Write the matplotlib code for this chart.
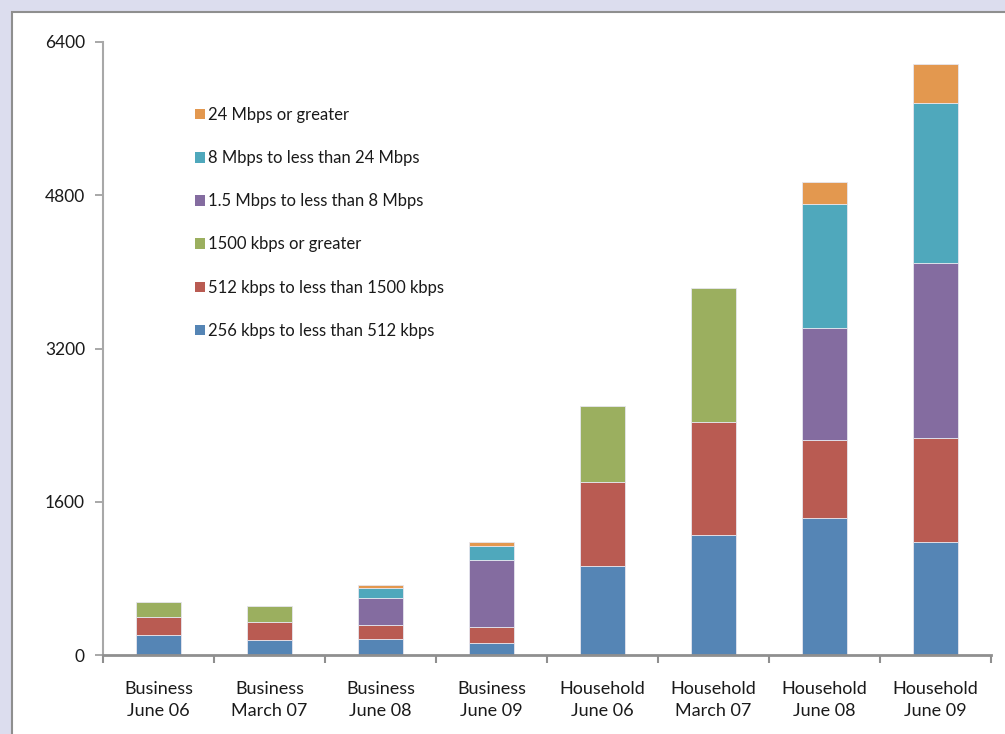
import matplotlib
matplotlib.use('Agg')

import matplotlib.pyplot as plt
import numpy as np
from matplotlib.patches import Rectangle, Patch

plt.rcParams['font.family'] = ['Lato', 'DejaVu Sans']

categories = ['Business\nJune 06', 'Business\nMarch 07', 'Business\nJune 08', 'Business\nJune 09',
              'Household\nJune 06', 'Household\nMarch 07', 'Household\nJune 08', 'Household\nJune 09']

# valores (conexões, empilhadas de baixo para cima)
kbps_256_512 = [206, 160, 167, 122, 932, 1250, 1430, 1176]
kbps_512_1500 = [194, 188, 149, 167, 877, 1182, 811, 1086]
kbps_1500_plus = [153, 167, 0, 0, 787, 1400, 0, 0]
mbps_1_5_8 = [0, 0, 279, 700, 0, 0, 1176, 1834]
mbps_8_24 = [0, 0, 101, 152, 0, 0, 1288, 1664]
mbps_24_plus = [0, 0, 35, 39, 0, 0, 233, 407]

series = [
    ('256 kbps to less than 512 kbps', kbps_256_512, '#5585B5'),
    ('512 kbps to less than 1500 kbps', kbps_512_1500, '#B95B52'),
    ('1500 kbps or greater', kbps_1500_plus, '#9BAF5F'),
    ('1.5 Mbps to less than 8 Mbps', mbps_1_5_8, '#846CA0'),
    ('8 Mbps to less than 24 Mbps', mbps_8_24, '#4FA8BC'),
    ('24 Mbps or greater', mbps_24_plus, '#E3984F'),
]

fig = plt.figure(figsize=(10.05, 7.34), dpi=100)
fig.patch.set_facecolor('#DCDDEE')

# painel branco com borda cinza (atrás dos eixos)
panel = Rectangle((12 / 1005, -0.1), 1.2, 1 - 12 / 734 + 0.1, transform=fig.transFigure,
                  facecolor='white', edgecolor='#8F8F8F', linewidth=1.5, zorder=-10)
fig.patches.append(panel)

ax = fig.add_axes([103 / 1005, 1 - 655 / 734, (991 - 103) / 1005, (655 - 42) / 734])
ax.set_facecolor('none')

x = np.arange(len(categories))
bottom = np.zeros(len(categories))
handles = []
for label, values, color in series:
    vals = np.array(values, dtype=float)
    mask = vals > 0
    ax.bar(x[mask], vals[mask], width=0.4, bottom=bottom[mask], color=color,
           edgecolor='#E6E6EE', linewidth=0.6, zorder=2)
    bottom += vals
    handles.append(Patch(facecolor=color, edgecolor='none', label=label))

ax.set_xlim(-0.5, len(categories) - 0.5)
ax.set_ylim(0, 6400)
ax.set_yticks([0, 1600, 3200, 4800, 6400])
ax.set_xticks(x)
ax.set_xticklabels(categories, fontsize=13, color='#1A1A1A', linespacing=1.45)
ax.set_xticks(np.arange(-0.5, len(categories)), minor=True)
ax.tick_params(axis='x', which='major', length=0, pad=19)
ax.tick_params(axis='x', which='minor', length=6, width=1.5, color='#8F8F8F', direction='out')
ax.tick_params(axis='y', length=6, width=1.2, color='#9A9A9A', pad=7, labelsize=12.5, labelcolor='#1A1A1A')

for side in ['top', 'right']:
    ax.spines[side].set_visible(False)
ax.spines['left'].set_color('#A8A8A8')
ax.spines['left'].set_linewidth(1.5)
ax.spines['bottom'].set_color('#8F8F8F')
ax.spines['bottom'].set_linewidth(2)

leg = ax.legend(handles=handles[::-1], loc='upper left', bbox_to_anchor=(195 / 1005, 1 - 107 / 734),
                bbox_transform=fig.transFigure, frameon=False, fontsize=12,
                handlelength=0.6, handleheight=0.6, handletextpad=0.2, labelspacing=1.63,
                borderaxespad=0, borderpad=0)
for t in leg.get_texts():
    t.set_color('#1A1A1A')

fig.savefig('out.png', dpi=100)
plt.close(fig)
